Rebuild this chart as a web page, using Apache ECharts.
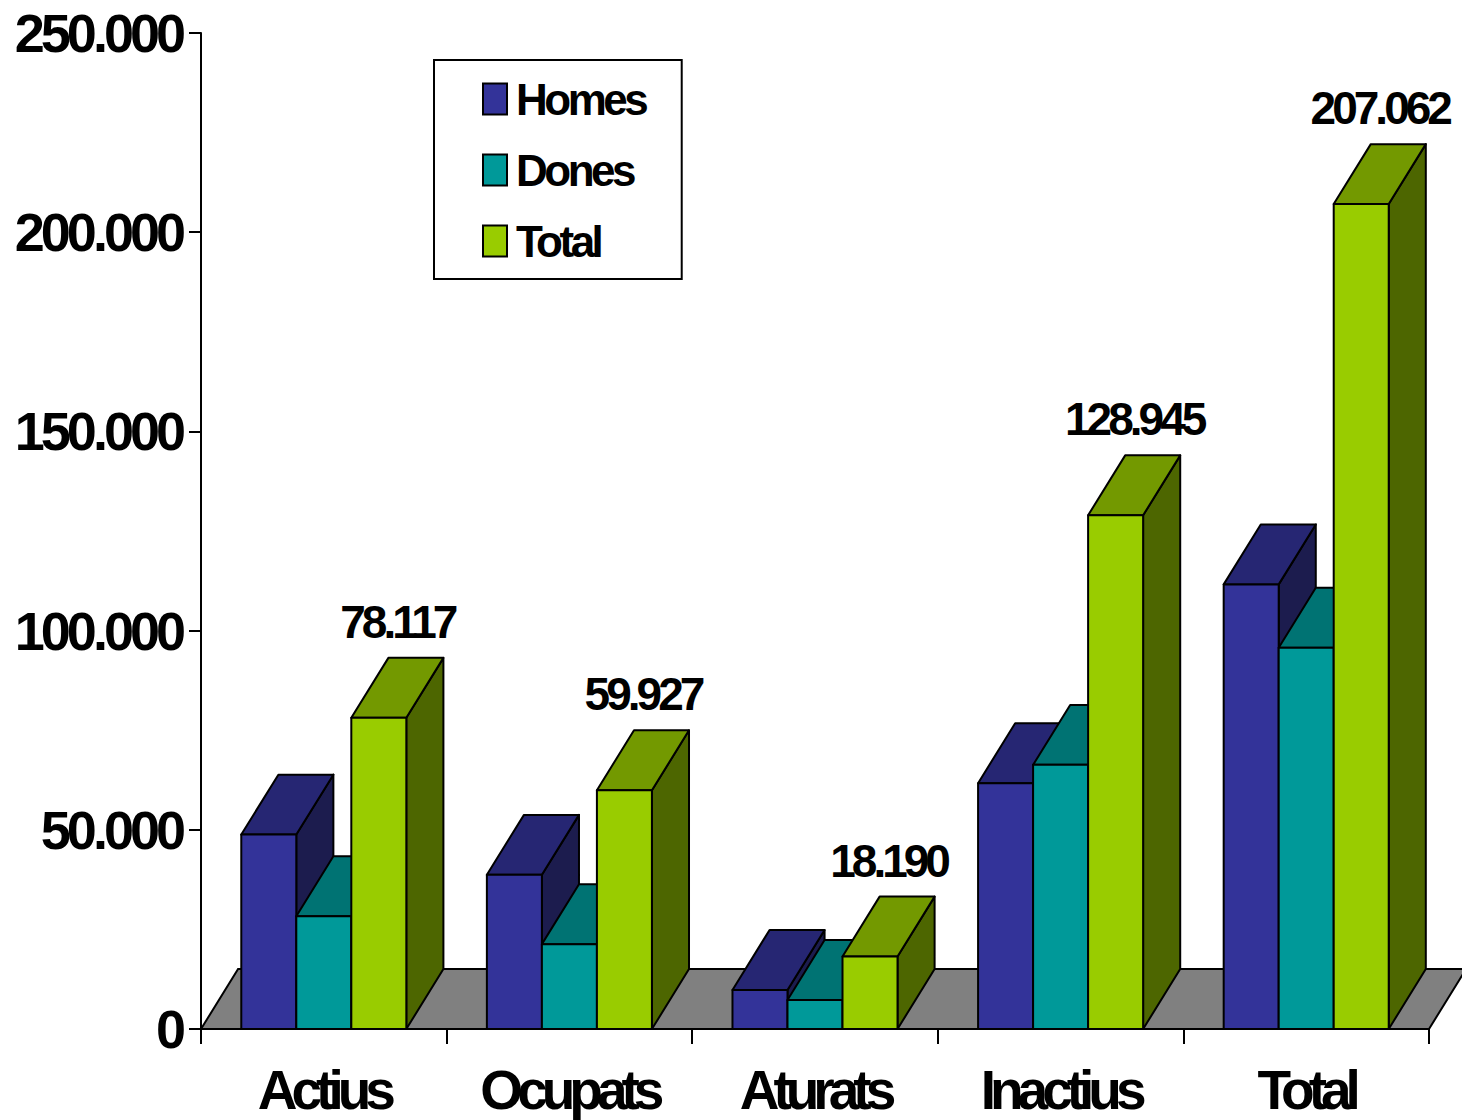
<!DOCTYPE html>
<html>
<head>
<meta charset="utf-8">
<script src="https://cdn.jsdelivr.net/npm/echarts@6/dist/echarts.min.js"></script>
<style>
html, body { margin: 0; padding: 0; background: #ffffff; }
#chart { width: 1462px; height: 1120px; }
</style>
</head>
<body>
<div id="chart"></div>
<script>
// ---------- data ----------
const categories = ['Actius', 'Ocupats', 'Aturats', 'Inactius', 'Total'];
const seriesNames = ['Homes', 'Dones', 'Total'];
const homes = [48800, 38700, 9800, 61700, 111600];
const dones = [28300, 21300, 7300, 66300, 95700];
const total = [78117, 59927, 18190, 128945, 207062];
const yMin = 0, yMax = 250000, yStep = 50000;

// ---------- styles ----------
const FONT = '"Liberation Sans", Arial, Helvetica, sans-serif';
const faces = [
  { front: '#333399', top: '#262673', side: '#1c1c4e' },
  { front: '#009999', top: '#007373', side: '#004d4d' },
  { front: '#99cc00', top: '#739900', side: '#4d6600' }
];
const fmt = v => String(Math.round(v)).replace(/\B(?=(\d{3})+(?!\d))/g, '.');

function bar3d(slot, col, withLabel) {
  return function (params, api) {
    const ci = api.value(0), v = api.value(1);
    const band = api.size([1, 0])[0];
    const bw = band * 0.224, dx = band * 0.151, dy = band * 0.244;
    const c = api.coord([ci, v]);
    const b = api.coord([ci, 0]);
    const x0 = c[0] - 1.5 * bw + slot * bw;
    const ty = c[1], by = b[1];
    const st = { stroke: '#000', lineWidth: 2, lineJoin: 'round' };
    const children = [
      { type: 'polygon', shape: { points: [[x0 + bw, ty], [x0 + bw + dx, ty - dy], [x0 + bw + dx, by - dy], [x0 + bw, by]] },
        style: Object.assign({ fill: col.side }, st) },
      { type: 'polygon', shape: { points: [[x0, ty], [x0 + bw, ty], [x0 + bw + dx, ty - dy], [x0 + dx, ty - dy]] },
        style: Object.assign({ fill: col.top }, st) },
      { type: 'rect', shape: { x: x0, y: ty, width: bw, height: by - ty },
        style: Object.assign({ fill: col.front }, st) }
    ];
    if (withLabel) {
      children.push({
        type: 'text', x: x0 + bw / 2 + dx / 2, y: ty - dy - 36,
        style: { text: fmt(v), fontSize: 46, fontWeight: 'bold', fontFamily: FONT, fill: '#000',
                 align: 'center', verticalAlign: 'middle' }
      });
    }
    return { type: 'group', children: children };
  };
}

function floorItem(params, api) {
  const cs = params.coordSys;
  const band = api.size([1, 0])[0];
  const dx = band * 0.151, dy = band * 0.244;
  const y0 = cs.y + cs.height;
  return {
    type: 'polygon',
    shape: { points: [[cs.x, y0], [cs.x + cs.width, y0], [cs.x + cs.width + dx, y0 - dy], [cs.x + dx, y0 - dy]] },
    style: { fill: '#808080', stroke: '#000', lineWidth: 2 }
  };
}

const valueSets = [homes, dones, total];
const chart = echarts.init(document.getElementById('chart'), null, { renderer: 'svg' });

const option = {
  animation: false,
  backgroundColor: '#ffffff',
  grid: { left: 201, right: 33, top: 33, bottom: 91, containLabel: false, outerBoundsMode: 'none' },
  legend: {
    orient: 'vertical', left: 434, top: 60,
    icon: 'rect', itemWidth: 24, itemHeight: 31, itemGap: 27, itemTextGap: 10,
    padding: [17, 19, 16, 48],
    backgroundColor: '#ffffff', borderColor: '#000', borderWidth: 2, borderRadius: 0,
    selectedMode: false,
    textStyle: { fontSize: 44, fontWeight: 'bold', fontFamily: FONT, color: '#000', padding: [0, 0, 0, 4] },
    data: seriesNames.map((n, i) => ({ name: n, itemStyle: { color: faces[i].front, borderColor: '#000', borderWidth: 2 } }))
  },
  xAxis: {
    type: 'category', data: categories, boundaryGap: true,
    axisLine: { show: true, lineStyle: { color: '#000', width: 2 } },
    axisTick: { show: true, length: 15, lineStyle: { color: '#000', width: 2 } },
    axisLabel: { margin: 33, fontSize: 55, fontWeight: 'bold', fontFamily: FONT, color: '#000', interval: 0 },
    splitLine: { show: false }
  },
  yAxis: {
    type: 'value', min: yMin, max: yMax, interval: yStep,
    axisLine: { show: true, lineStyle: { color: '#000', width: 2 } },
    axisTick: { show: true, length: 12, lineStyle: { color: '#000', width: 2 } },
    axisLabel: { margin: 19, fontSize: 54, fontWeight: 'bold', fontFamily: FONT, color: '#000', formatter: fmt },
    splitLine: { show: false }
  },
  series: [
    { type: 'custom', name: '__floor', silent: true, z: 1, data: [[0, 0]], encode: { x: 0, y: 1 }, renderItem: floorItem }
  ].concat(seriesNames.map((n, i) => ({
    type: 'custom', name: n, z: 2 + i, silent: true,
    itemStyle: { color: faces[i].front, borderColor: '#000', borderWidth: 2 },
    data: valueSets[i].map((v, k) => [k, v]),
    encode: { x: 0, y: 1 },
    renderItem: bar3d(i, faces[i], n === 'Total')
  })))
};

function tighten() {
  const map = { 54: -4, 55: -6, 46: -4, 44: -3.5 };
  document.querySelectorAll('#chart svg text').forEach(t => {
    const fs = Math.round(parseFloat(getComputedStyle(t).fontSize));
    if (map[fs] !== undefined) t.style.letterSpacing = map[fs] + 'px';
  });
}
chart.on('finished', tighten);
chart.setOption(option);
tighten();
setTimeout(tighten, 50);
setTimeout(tighten, 300);
</script>
</body>
</html>
